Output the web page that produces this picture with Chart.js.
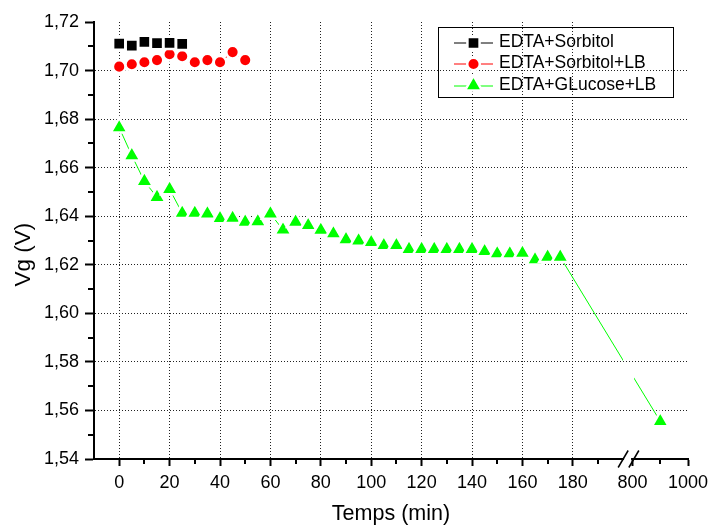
<!DOCTYPE html>
<html>
<head>
<meta charset="utf-8">
<script src="https://cdn.jsdelivr.net/npm/chart.js"></script>
<style>
  html, body { margin: 0; padding: 0; background: #fff; }
  #wrap { width: 708px; height: 526px; }
</style>
</head>
<body>
<div id="wrap"><canvas id="chart" width="708" height="526"></canvas></div>
<script>
// times in minutes, Vg in volts
const sorbitolTime = [0, 5, 10, 15, 20, 25];
const sorbitolVg = [1.7111, 1.7103, 1.7118, 1.7113, 1.7114, 1.7110];

const sorbitolLbTime = [0, 5, 10, 15, 20, 25, 30, 35, 40, 45, 50];
const sorbitolLbVg = [1.7016, 1.7026, 1.7034, 1.7043, 1.7067, 1.7059, 1.7034, 1.7043, 1.7034, 1.7076, 1.7043];

const glucoseLbTime = [0, 5, 10, 15, 20, 25, 30, 35, 40, 45, 50, 55, 60, 65, 70, 75, 80, 85, 90,
    95, 100, 105, 110, 115, 120, 125, 130, 135, 140, 145, 150, 155, 160, 165, 170, 175, 900];
const glucoseLbVg = [1.6765, 1.6650, 1.6544, 1.6478, 1.6511, 1.6413, 1.6413, 1.6410, 1.6391, 1.6392,
    1.6376, 1.6378, 1.6410, 1.6344, 1.6376, 1.6362, 1.6343, 1.6328, 1.6304, 1.6299, 1.6292, 1.6280,
    1.6280, 1.6264, 1.6264, 1.6264, 1.6264, 1.6264, 1.6264, 1.6255, 1.6246, 1.6246, 1.6248, 1.6221,
    1.6232, 1.6232, 1.5555];

const xMajorTicks = [0, 20, 40, 60, 80, 100, 120, 140, 160, 180, 800, 1000];
const xMinorTicks = [10, 30, 50, 70, 90, 110, 130, 150, 170, 190, 900];
const yMajorTicks = [1.54, 1.56, 1.58, 1.60, 1.62, 1.64, 1.66, 1.68, 1.70, 1.72];
const yMinorTicks = [1.55, 1.57, 1.59, 1.61, 1.63, 1.65, 1.67, 1.69, 1.71];

const FONT = '"Liberation Sans", Arial, sans-serif';

// broken x axis: 0..200 kept as is, 800..1000 squeezed in after the break
function toAxis(t) {
    return t <= 200 ? t : 203.7 + (t - 800) * 0.11;
}
const pts = (ts, vs) => ts.map((t, i) => ({ x: toAxis(t), y: vs[i] }));

function drawMarker(ctx, style, r, x, y, color) {
    ctx.beginPath();
    if (style === 'rect') {
        const s = r * Math.SQRT1_2;
        ctx.rect(x - s, y - s, 2 * s, 2 * s);
    } else if (style === 'triangle') {
        ctx.moveTo(x, y - r);
        ctx.lineTo(x + r * 0.866, y + r / 2);
        ctx.lineTo(x - r * 0.866, y + r / 2);
        ctx.closePath();
    } else {
        ctx.arc(x, y, r, 0, Math.PI * 2);
    }
    ctx.fillStyle = color;
    ctx.fill();
    ctx.lineWidth = 2.5;
    ctx.strokeStyle = '#fff';
    ctx.stroke();
}

const brokenAxis = {
    id: 'brokenAxis',
    beforeDatasetDraw(chart, args) {
        if (args.index !== 2) return;
        const ctx = chart.ctx;
        const p = chart.scales.x.getPixelForValue(toAxis(800));
        ctx.save();
        ctx.beginPath();
        ctx.rect(0, 0, p - 9.5, chart.height);
        ctx.rect(p + 1.5, 0, chart.width - p - 1.5, chart.height);
        ctx.clip();
    },
    afterDatasetDraw(chart, args) {
        if (args.index !== 2) return;
        chart.ctx.restore();
    },
    afterDraw(chart) {
        const ctx = chart.ctx;
        const xs = chart.scales.x;
        const ys = chart.scales.y;
        const y0 = chart.chartArea.bottom;
        const x0 = chart.chartArea.left;
        ctx.save();

        // minor ticks
        ctx.strokeStyle = '#000';
        ctx.lineWidth = 2;
        ctx.beginPath();
        xMinorTicks.forEach(t => {
            const px = Math.round(xs.getPixelForValue(toAxis(t)));
            ctx.moveTo(px, y0);
            ctx.lineTo(px, y0 + 5);
        });
        yMinorTicks.forEach(v => {
            const py = Math.round(ys.getPixelForValue(v));
            ctx.moveTo(x0, py);
            ctx.lineTo(x0 - 6, py);
        });
        ctx.stroke();

        // axis break
        const p = xs.getPixelForValue(toAxis(800));
        ctx.fillStyle = '#fff';
        ctx.fillRect(p - 8.5, y0 - 2, 7, 4);
        ctx.lineWidth = 1.5;
        [p - 9.4, p + 1.3].forEach(c => {
            ctx.beginPath();
            ctx.moveTo(c - 5, y0 + 8.5);
            ctx.lineTo(c + 5, y0 - 8.5);
            ctx.stroke();
        });

        // y title
        ctx.save();
        ctx.translate(30.4, 254.7);
        ctx.rotate(-Math.PI / 2);
        ctx.font = '22.5px ' + FONT;
        ctx.fillStyle = '#000';
        ctx.textAlign = 'center';
        ctx.textBaseline = 'alphabetic';
        ctx.fillText('Vg (V)', 0, 0);
        ctx.restore();

        // legend box
        ctx.lineWidth = 1;
        ctx.strokeStyle = '#000';
        ctx.strokeRect(438.5, 27.5, 235, 70);
        const rows = [43, 64, 85.5];
        chart.data.datasets.forEach((ds, i) => {
            const ry = rows[i];
            ctx.strokeStyle = ds.borderColor;
            ctx.lineWidth = 1;
            ctx.beginPath();
            ctx.moveTo(454, Math.round(ry));
            ctx.lineTo(493, Math.round(ry));
            ctx.stroke();
            drawMarker(ctx, ds.pointStyle, ds.pointRadius, 473.5, ry, ds.pointBackgroundColor);
            ctx.font = '17.5px ' + FONT;
            ctx.fillStyle = '#000';
            ctx.textAlign = 'left';
            ctx.textBaseline = 'middle';
            ctx.fillText(ds.label, 499, ry - 0.8);
        });
        ctx.restore();
    }
};

const ctx = document.getElementById('chart').getContext('2d');
new Chart(ctx, {
    type: 'line',
    data: {
        datasets: [{
            label: 'EDTA+Sorbitol',
            data: pts(sorbitolTime, sorbitolVg),
            borderColor: '#000000',
            borderWidth: 1,
            pointStyle: 'rect',
            pointRadius: 8.6,
            pointBackgroundColor: '#000000',
            pointBorderColor: '#ffffff',
            pointBorderWidth: 2.5
        }, {
            label: 'EDTA+Sorbitol+LB',
            data: pts(sorbitolLbTime, sorbitolLbVg),
            borderColor: '#ff0000',
            borderWidth: 1,
            pointStyle: 'circle',
            pointRadius: 6.3,
            pointBackgroundColor: '#ff0000',
            pointBorderColor: '#ffffff',
            pointBorderWidth: 2.5
        }, {
            label: 'EDTA+GLucose+LB',
            data: pts(glucoseLbTime, glucoseLbVg),
            borderColor: '#00ff00',
            borderWidth: 1,
            pointStyle: 'triangle',
            pointRadius: 9.8,
            pointBackgroundColor: '#00ff00',
            pointBorderColor: '#ffffff',
            pointBorderWidth: 2.5
        }]
    },
    options: {
        responsive: false,
        animation: false,
        layout: { padding: { top: 22, right: 20, left: 0, bottom: 0 } },
        plugins: {
            legend: { display: false },
            tooltip: { enabled: false }
        },
        scales: {
            x: {
                type: 'linear',
                min: -10,
                max: toAxis(1000),
                afterFit: s => { s.height = 67; s.paddingLeft = 0; s.paddingRight = 0; },
                afterBuildTicks: s => { s.ticks = xMajorTicks.map(t => ({ value: toAxis(t) })); },
                ticks: {
                    padding: 6,
                    color: '#000',
                    font: { family: FONT, size: 18 },
                    maxRotation: 0,
                    autoSkip: false,
                    callback: (v, i) => String(xMajorTicks[i])
                },
                grid: {
                    color: c => (c.tick && c.tick.value <= 180.5) ? '#222' : 'rgba(0,0,0,0)',
                    lineWidth: 1,
                    tickLength: 7,
                    tickWidth: 2,
                    tickColor: '#000',
                    tickBorderDash: [10, 0]
                },
                border: { color: '#000', width: 2, dash: [1, 2] },
                title: {
                    display: true,
                    text: 'Temps (min)',
                    color: '#000',
                    font: { family: FONT, size: 21.5, lineHeight: 1.1 },
                    padding: { top: 0, bottom: 0 }
                }
            },
            y: {
                min: 1.54,
                max: 1.72,
                afterFit: s => { s.width = 94; s.paddingTop = 0; s.paddingBottom = 0; },
                afterBuildTicks: s => { s.ticks = yMajorTicks.map(v => ({ value: v })); },
                ticks: {
                    padding: 6,
                    color: '#000',
                    font: { family: FONT, size: 18 },
                    callback: v => v.toFixed(2).replace('.', ',')
                },
                grid: {
                    color: c => (c.tick && c.tick.value > 1.545 && c.tick.value < 1.715) ? '#222' : 'rgba(0,0,0,0)',
                    lineWidth: 1,
                    tickLength: 9,
                    tickWidth: 2,
                    tickColor: '#000',
                    tickBorderDash: [10, 0]
                },
                border: { color: '#000', width: 2, dash: [1, 2] }
            }
        }
    },
    plugins: [brokenAxis]
});
</script>
</body>
</html>
